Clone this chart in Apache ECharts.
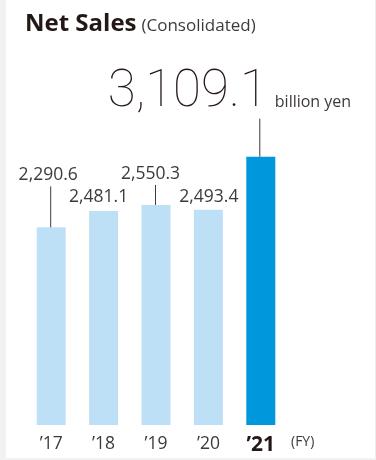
<!DOCTYPE html>
<html>
<head>
<meta charset="utf-8">
<script src="https://cdn.jsdelivr.net/npm/echarts@6/dist/echarts.min.js"></script>
<style>html,body{margin:0;padding:0;background:#fff;}#c{width:376px;height:460px;}</style>
</head>
<body>
<div id="c"></div>
<script>
const categories = ['’17', '’18', '’19', '’20', '’21'];
const netSales = [2290.6, 2481.1, 2550.3, 2493.4, 3109.1];
const unitLabel = 'billion yen';
const fyLabel = '(FY)';

// label layout (pixels relative to bar top centre)
const labelLayout = [
  { dx: -3, dy: -52, lead: 41 },
  { dx: -5, dy: -14, lead: 0 },
  { dx: -5.5, dy: -31, lead: 20 },
  { dx: 0.5, dy: -12.5, lead: 0 },
  { big: true, lead: 38 }
];

const fmt = v => v.toLocaleString('en-US', { minimumFractionDigits: 1, maximumFractionDigits: 1 });
const lightBlue = '#bee0f7';
const darkBlue = '#0097dd';
const textFont = '"Open Sans", "Noto Sans", sans-serif';

const chart = echarts.init(document.getElementById('c'), null, { renderer: 'canvas' });
chart.setOption({
  backgroundColor: '#fff',
  animation: false,
  graphic: [
    { type: 'rect', shape: { x: 0, y: 0, width: 6, height: 460 }, style: { fill: '#f2f2f2' }, silent: true },
    { type: 'rect', shape: { x: 375, y: 0, width: 1, height: 460 }, style: { fill: '#ececec' }, silent: true },
    { type: 'rect', shape: { x: 0, y: 458, width: 376, height: 2 }, style: { fill: '#f2f2f2' }, silent: true }
  ],
  title: {
    text: '{a|Net Sales} {b|(Consolidated)}',
    left: 20, top: 7,
    textStyle: {
      rich: {
        a: { fontFamily: textFont, fontWeight: 'bold', fontSize: 24, color: '#231815' },
        b: { fontFamily: textFont, fontWeight: 'normal', fontSize: 17, color: '#3e3a39', padding: [4, 0, 0, 0] }
      }
    }
  },
  grid: { left: 25, right: 89, top: 123, bottom: 35 },
  xAxis: {
    type: 'category',
    data: categories,
    axisLine: { show: false },
    axisTick: { show: false },
    axisLabel: {
      margin: 10,
      formatter: (v, i) => i === categories.length - 1 ? '{b|' + v + '}' : '{n|' + v + '}',
      rich: {
        n: { fontFamily: textFont, fontSize: 17.5, color: '#3e3a39' },
        b: { fontFamily: textFont, fontSize: 21, fontWeight: 'bold', color: '#231815' }
      }
    },
    name: fyLabel,
    nameLocation: 'end',
    nameGap: 4,
    nameTextStyle: { fontFamily: textFont, fontSize: 14, color: '#3e3a39', verticalAlign: 'top', padding: [10, 0, 0, 0] }
  },
  yAxis: { type: 'value', min: 0, max: 3500, show: false, splitLine: { show: false } },
  series: [
    {
      type: 'bar',
      barWidth: 29,
      data: netSales.map((v, i) => ({ value: v, itemStyle: { color: i === netSales.length - 1 ? darkBlue : lightBlue } })),
      z: 2
    },
    {
      type: 'custom',
      data: netSales.map((v, i) => [i, v]),
      z: 3,
      renderItem: (params, api) => {
        const i = params.dataIndex;
        const p = api.coord([api.value(0), api.value(1)]);
        const L = labelLayout[i];
        const children = [];
        if (L.big) {
          children.push({ type: 'line', shape: { x1: p[0] - 1, y1: p[1] - L.lead, x2: p[0] - 1, y2: p[1] }, style: { stroke: '#3e3a39', lineWidth: 1 } });
          children.push({ type: 'text', style: { text: fmt(api.value(1)), x: p[0] + 7, y: p[1] - 63, align: 'right', verticalAlign: 'middle', fontFamily: 'Roboto, sans-serif', fontWeight: 100, fontSize: 51, fill: '#231815' } });
          children.push({ type: 'text', style: { text: unitLabel, x: p[0] + 14, y: p[1] - 54, align: 'left', verticalAlign: 'middle', fontFamily: textFont, fontSize: 16, fill: '#3e3a39' } });
        } else {
          if (L.lead) {
            children.push({ type: 'line', shape: { x1: p[0] - 0.5, y1: p[1] - L.lead, x2: p[0] - 0.5, y2: p[1] }, style: { stroke: '#3e3a39', lineWidth: 1 } });
          }
          children.push({ type: 'text', style: { text: fmt(api.value(1)), x: p[0] + L.dx, y: p[1] + L.dy, align: 'center', verticalAlign: 'middle', fontFamily: textFont, fontSize: 17.5, fill: '#3e3a39' } });
        }
        return { type: 'group', children };
      }
    }
  ]
});
</script>
</body>
</html>
